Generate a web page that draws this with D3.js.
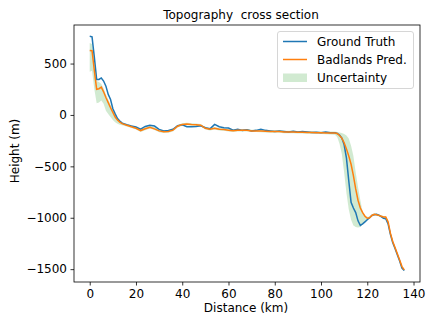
<!DOCTYPE html>
<html>
<head>
<meta charset="utf-8">
<script src="https://cdn.jsdelivr.net/npm/d3@7"></script>
<style>
body { margin: 0; background: #fff; }
text { font-family: "DejaVu Sans", sans-serif; }
</style>
</head>
<body>
<svg id="chart" width="436" height="327"></svg>
<script>
// distance along the section (km)
let dist = [0, 1, 2, 3, 4, 5, 6, 7, 8, 9, 10, 11, 12, 13, 14, 16, 18, 20, 22, 24, 26, 28, 30, 32, 34, 36, 38, 40,
    42, 44, 46, 48, 50, 52, 54, 56, 58, 60, 62, 64, 66, 68, 70, 72, 74, 76, 78, 80, 82, 84, 86, 88, 90, 92, 94, 96,
    98, 100, 102, 104, 106, 107, 108, 109, 110, 111, 112, 113, 114, 115, 116, 117, 118, 119, 120, 121, 122, 123,
    124, 125, 126, 127, 128, 129, 130, 131, 132, 133, 134, 135, 136];

let truth = [765, 760, 560, 345, 345, 360, 330, 280, 200, 150, 60, 10, -35, -60, -80, -95, -108, -118, -138, -112,
    -100, -108, -140, -155, -152, -140, -105, -95, -115, -115, -112, -105, -125, -135, -92, -115, -125, -128, -148,
    -140, -150, -145, -155, -150, -140, -150, -155, -160, -155, -160, -165, -158, -165, -160, -165, -170, -168,
    -172, -165, -172, -172, -180, -195, -225, -290, -420, -640, -850, -905, -950, -1030, -1074, -1060, -1040,
    -1020, -1000, -978, -970, -967, -975, -990, -1005, -1010, -1060, -1160, -1240, -1300, -1360, -1420, -1490, -1514];

let pred = [628, 625, 430, 250, 255, 270, 225, 170, 120, 70, 25, -20, -50, -70, -85, -100, -115, -130, -152, -135,
    -120, -135, -155, -163, -160, -148, -110, -92, -88, -92, -95, -100, -130, -140, -130, -140, -142, -148, -153,
    -150, -150, -148, -155, -155, -156, -158, -160, -162, -160, -165, -165, -165, -168, -168, -170, -170, -172,
    -174, -176, -176, -176, -180, -200, -225, -270, -330, -400, -480, -590, -720, -830, -905, -950, -985,
    -1005, -1000, -978, -967, -970, -977, -985, -993, -993, -1040, -1150, -1230, -1290, -1350, -1410, -1475, -1507];

// uncertainty band (lower / upper)
let low = [420, 430, 250, 115, 120, 140, 110, 40, 10, -20, -50, -70, -85, -95, -100, -112, -126, -142, -165, -148,
    -132, -146, -168, -176, -172, -160, -122, -104, -100, -104, -107, -112, -142, -152, -142, -152, -154, -160, -165,
    -162, -162, -160, -167, -167, -168, -170, -172, -174, -172, -177, -177, -177, -180, -180, -182, -182, -184,
    -186, -188, -190, -192, -215, -280, -380, -560, -760, -920, -1020, -1075, -1090, -1095, -1090, -1065, -1035,
    -1015, -1008, -988, -977, -980, -987, -995, -1003, -1003, -1050, -1160, -1240, -1300, -1360, -1420, -1485, -1515];

let high = [700, 690, 560, 330, 320, 300, 260, 200, 150, 100, 50, 5, -30, -55, -70, -88, -102, -116, -138, -120,
    -106, -120, -142, -150, -148, -136, -98, -80, -76, -80, -83, -88, -118, -128, -118, -128, -130, -136, -141,
    -138, -138, -136, -143, -143, -144, -146, -148, -150, -148, -153, -153, -153, -156, -156, -158, -158, -160,
    -162, -164, -162, -160, -165, -170, -175, -185, -200, -230, -300, -400, -560, -700, -830, -940, -975,
    -990, -990, -968, -957, -960, -967, -975, -983, -983, -1030, -1140, -1220, -1280, -1340, -1400, -1465, -1499];

let xTicks = [0, 20, 40, 60, 80, 100, 120, 140];
let yTicks = [500, 0, -500, -1000, -1500];

let margin = {top: 25, right: 16, bottom: 45, left: 74};
let W = 436, H = 327;
let svg = d3.select('#chart');

let x = d3.scaleLinear().domain([-6.8, 142.8]).range([margin.left, W - margin.right]);
let y = d3.scaleLinear().domain([-1625, 875]).range([H - margin.bottom, margin.top]);

let rows = dist.map((d, i) => ({d: d, t: truth[i], p: pred[i], lo: low[i], hi: high[i]}));

let g = svg.append('g');

// band
g.append('path')
    .datum(rows)
    .attr('fill', '#2ca02c')
    .attr('fill-opacity', 0.22)
    .attr('d', d3.area().x(r => x(r.d)).y0(r => y(r.lo)).y1(r => y(r.hi)));

g.append('path')
    .datum(rows)
    .attr('fill', 'none')
    .attr('stroke', '#1f77b4')
    .attr('stroke-width', 1.5)
    .attr('d', d3.line().x(r => x(r.d)).y(r => y(r.t)));

g.append('path')
    .datum(rows)
    .attr('fill', 'none')
    .attr('stroke', '#ff7f0e')
    .attr('stroke-width', 1.5)
    .attr('d', d3.line().x(r => x(r.d)).y(r => y(r.p)));

// axes
let fmt = v => String(v).replace('-', '\u2212');
let xAxis = svg.append('g')
    .attr('transform', `translate(0,${H - margin.bottom})`)
    .call(d3.axisBottom(x).tickValues(xTicks).tickSize(3.5).tickPadding(3.5).tickFormat(fmt));
let yAxis = svg.append('g')
    .attr('transform', `translate(${margin.left},0)`)
    .call(d3.axisLeft(y).tickValues(yTicks).tickSize(3.5).tickPadding(3.5).tickFormat(fmt));
[xAxis, yAxis].forEach(a => {
    a.select('.domain').remove();
    a.selectAll('line').attr('stroke', '#000').attr('stroke-width', 0.8);
    a.selectAll('text').attr('fill', '#000').style('font-size', '12px').style('font-family', '"DejaVu Sans", sans-serif');
});

// frame
svg.append('rect')
    .attr('x', margin.left).attr('y', margin.top)
    .attr('width', W - margin.left - margin.right)
    .attr('height', H - margin.top - margin.bottom)
    .attr('fill', 'none').attr('stroke', '#000').attr('stroke-width', 0.8);

// labels
svg.append('text').attr('x', 241).attr('y', 19).attr('text-anchor', 'middle')
    .style('font-size', '12px').style('white-space', 'pre').text('Topography  cross section');
svg.append('text').attr('x', 246).attr('y', 312).attr('text-anchor', 'middle')
    .style('font-size', '12px').text('Distance (km)');
svg.append('text').attr('transform', 'translate(19,151) rotate(-90)').attr('text-anchor', 'middle')
    .style('font-size', '12px').text('Height (m)');

// legend
let lg = svg.append('g');
lg.append('rect').attr('x', 277.5).attr('y', 31.5).attr('width', 136).attr('height', 57)
    .attr('rx', 2.5).attr('fill', '#fff').attr('fill-opacity', 0.8)
    .attr('stroke', '#ccc').attr('stroke-width', 0.8);
let items = [
    {label: 'Ground Truth', color: '#1f77b4', kind: 'line'},
    {label: 'Badlands Pred.', color: '#ff7f0e', kind: 'line'},
    {label: 'Uncertainty', color: '#2ca02c', kind: 'patch'}
];
items.forEach((it, i) => {
    let cy = 41.5 + i * 18;
    if (it.kind == 'line') {
        lg.append('line').attr('x1', 283).attr('x2', 307).attr('y1', cy).attr('y2', cy)
            .attr('stroke', it.color).attr('stroke-width', 1.5);
    } else {
        lg.append('rect').attr('x', 283).attr('y', cy - 4).attr('width', 24).attr('height', 8.5)
            .attr('fill', it.color).attr('fill-opacity', 0.22);
    }
    lg.append('text').attr('x', 317).attr('y', cy + 4.3).style('font-size', '12px').text(it.label);
});
</script>
</body>
</html>
